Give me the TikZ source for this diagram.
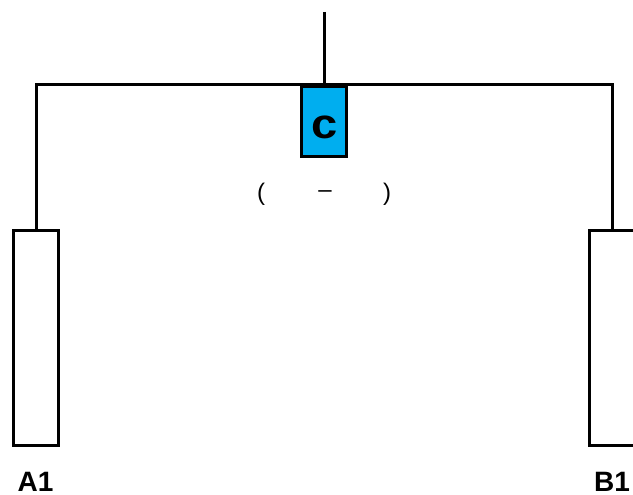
\documentclass[tikz,border=0pt]{standalone}
\usepackage{fontspec}
\setmainfont{Liberation Sans}
\definecolor{cbox}{HTML}{00AEEF}
\begin{document}
\begin{tikzpicture}[x=1pt,y=-1pt,
  wire/.style={line width=3pt},
  part/.style={draw,line width=3pt,minimum width=45pt,inner sep=0pt},
  lbl/.style={font=\bfseries\fontsize{28}{28}\selectfont,inner sep=0pt,anchor=base,text depth=0pt},
  paren/.style={font=\fontsize{24}{24}\selectfont,inner sep=0pt}]
\useasboundingbox (0,0) rectangle (633,495);
\coordinate (top) at (324,12);
\coordinate (mid) at (324,85);
\coordinate (lc) at (36,85);
\coordinate (rc) at (612,85);
\node[part,fill=cbox,minimum height=70pt] (C) at (324,121.5) {};
\node[lbl,font=\bfseries\fontsize{42}{42}\selectfont] (Ct) at (324.5,139) {\scalebox{1.12}[1]{c}};
\node[part,minimum height=215pt] (A) at (36,338) {};
\node[part,minimum height=215pt] (B) at (612,338) {};
\node[lbl] (Al) at (35.5,491.5) {A1};
\node[lbl] (Bl) at (612,491.5) {B1};
\node[paren] (p1) at (261,194) {(};
\node[paren] (p2) at (325,194) {--};
\node[paren] (p3) at (387,194) {)};
\draw[wire] (top) -- (mid);
\draw[wire] (A.north) -- (lc) -- (rc) -- (B.north);
\end{tikzpicture}
\end{document}
